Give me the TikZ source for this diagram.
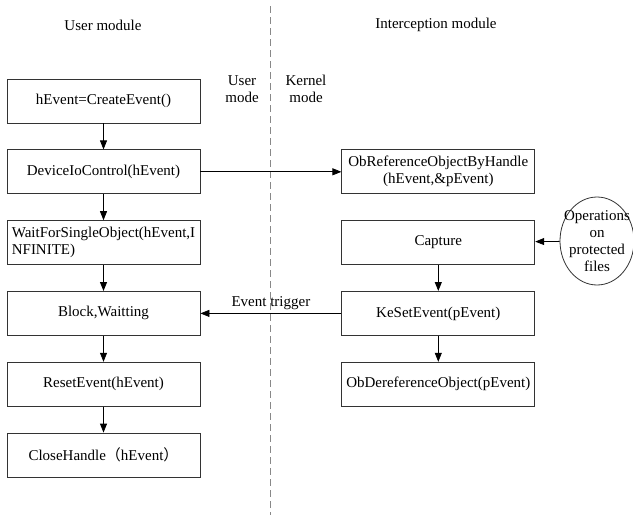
\documentclass[tikz,border=0pt]{standalone}
\usepackage{fontspec}
\setmainfont{Liberation Serif}
\newfontfamily\cjk{Noto Sans CJK SC}
\usepackage{tikz}
\usetikzlibrary{arrows.meta, positioning, shapes.geometric}
\definecolor{linegray}{HTML}{333333}
\definecolor{dashgray}{HTML}{888888}

\begin{document}
\begin{tikzpicture}[
    x=1pt, y=-1pt,
    every node/.style={font=\fontsize{15}{17}\selectfont},
    node distance=26pt and 141pt,
    box/.style={
        rectangle,
        draw=linegray,
        line width=0.8pt,
        minimum width=193pt,
        minimum height=44pt,
        inner sep=2pt,
        align=center
    },
    oval/.style={
        ellipse,
        draw=linegray,
        line width=0.8pt,
        minimum width=74pt,
        minimum height=88pt,
        inner xsep=-11pt,
        inner ysep=-4pt,
        align=center
    },
    arrow/.style={-{Triangle[length=9pt,width=7pt]}, line width=0.8pt, color=black}
]
\useasboundingbox (0,0) rectangle (633,515);

% headings
\node (usermod) at (103,25) {User module};
\node (intermod) at (436,25) {Interception module};
\node[align=center] (usermode) at (242,89) {User\\mode};
\node[align=center] (kernelmode) at (306,89) {Kernel\\mode};
\draw[dashgray, line width=0.9pt, dash pattern=on 7pt off 4pt] (270,6) -- (270,515);

% user side
\node[box] (create) at (103.5,101) {hEvent=CreateEvent()};
\node[box, below=of create] (ioctl) {DeviceIoControl(hEvent)};
\node[box, below=of ioctl, align=left] (wait) {WaitForSingleObject(hEvent,I\\NFINITE)};
\node[box, below=of wait] (block) {Block,Waitting};
\node[box, below=of block] (reset) {ResetEvent(hEvent)};
\node[box, below=of reset] (close) {CloseHandle{\cjk （}hEvent{\cjk ）}};

% kernel side
\node[box, right=of ioctl] (obref) {ObReferenceObjectByHandle\\(hEvent,\&pEvent)};
\node[box, below=of obref] (capture) {Capture};
\node[box, below=of capture] (keset) {KeSetEvent(pEvent)};
\node[box, below=of keset] (obderef) {ObDereferenceObject(pEvent)};
\node[oval] (ops) at (597,241) {Operations\\on\\protected\\files};

% ARROWS
\draw[arrow] (create) -- (ioctl);
\draw[arrow] (ioctl) -- (wait);
\draw[arrow] (wait) -- (block);
\draw[arrow] (block) -- (reset);
\draw[arrow] (reset) -- (close);
\draw[arrow] (ioctl) -- (obref);
\draw[arrow] (ops) -- (capture);
\draw[arrow] (capture) -- (keset);
\draw[arrow] (keset) -- (obderef);
\draw[arrow] (keset) -- node[above, pos=0.5] {Event trigger} (block);

\end{tikzpicture}
\end{document}
